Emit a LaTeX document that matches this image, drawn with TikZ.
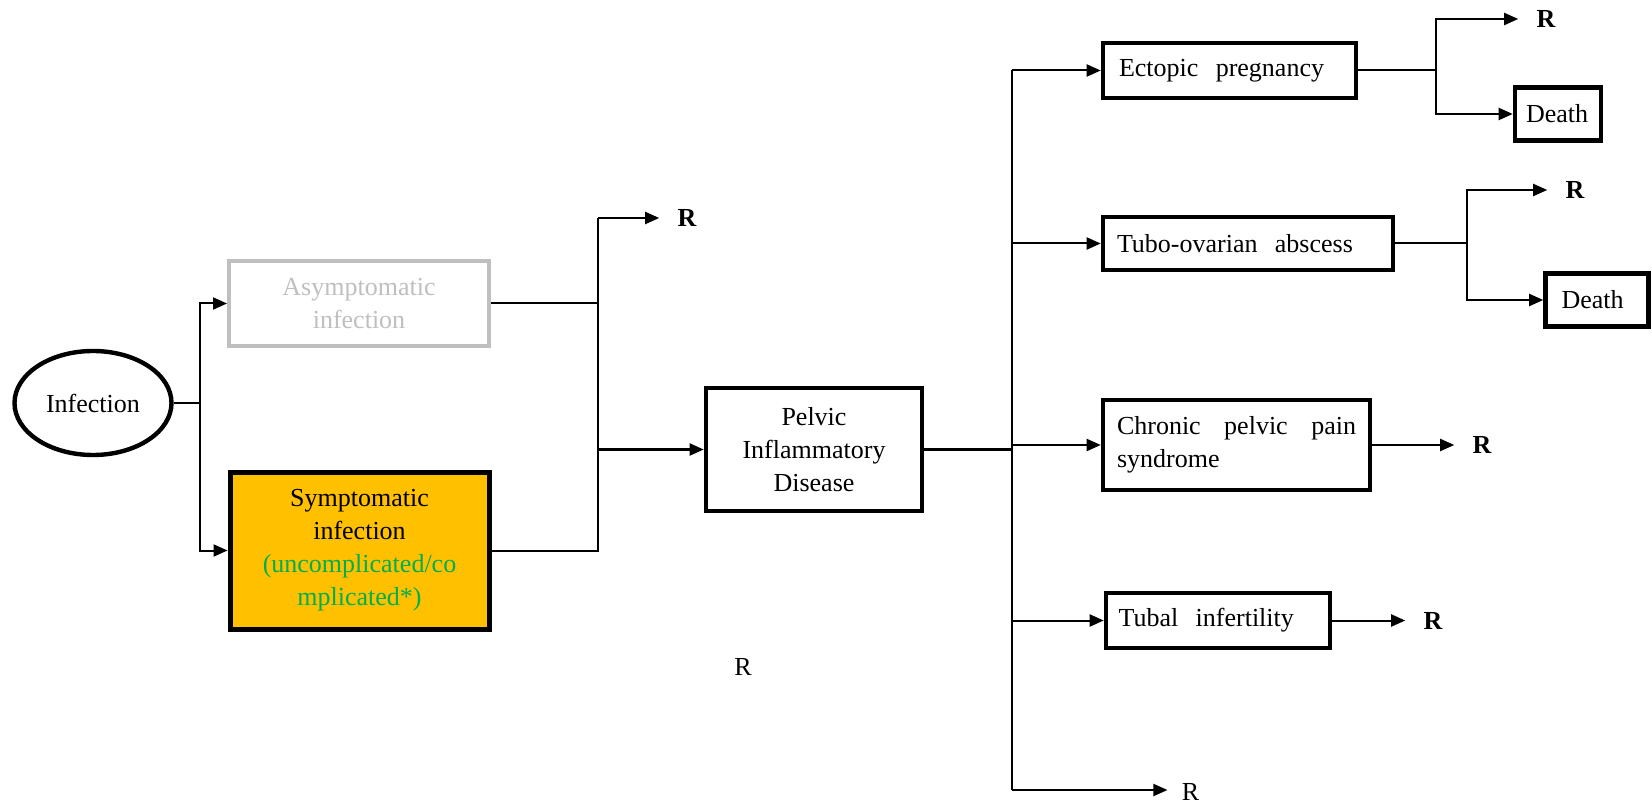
\documentclass[tikz,border=0pt]{standalone}
\usepackage{fontspec}
\setmainfont{Liberation Serif}
\usetikzlibrary{arrows.meta,shapes.geometric}
\definecolor{ambergold}{HTML}{FFC000}
\definecolor{leafgreen}{HTML}{00B050}
\definecolor{paleline}{HTML}{BFBFBF}
\begin{document}
\begin{tikzpicture}[x=0.5pt,y=-0.5pt,
  every node/.style={font=\fontsize{13}{16.5}\selectfont},
  box/.style={draw,line width=2.3pt,rectangle,inner sep=0pt,align=center},
  lbox/.style={draw,line width=2.3pt,rectangle,inner ysep=0pt,align=left},
  conn/.style={line width=1pt},
  arr/.style={conn,-{Triangle[length=7pt,width=6pt]}},
  rlab/.style={inner sep=0pt,font=\fontsize{13}{16.5}\selectfont\bfseries},
  rplain/.style={inner sep=0pt},
]
\useasboundingbox (0,0) rectangle (1652,806);

% first stage
\node[draw,ellipse,line width=2.2pt,minimum width=78.5pt,minimum height=52pt,inner sep=0pt]
  (inf) at (93,403) {Infection};
\node[box,draw=paleline,text=paleline,line width=2pt,minimum width=130pt,minimum height=42.5pt]
  (asym) at (359,303.5) {Asymptomatic\\infection};
\node[box,fill=ambergold,line width=2.5pt,minimum width=129.5pt,minimum height=78.5pt]
  (sym) at (359.5,550.5) {Symptomatic\\infection\\\textcolor{leafgreen}{(uncomplicated/co}\\\textcolor{leafgreen}{mplicated*)}};
\node[box,minimum width=108pt,minimum height=61.5pt]
  (pid) at (814,449.5) {Pelvic\\Inflammatory\\Disease};

% sequelae
\node[lbox,inner xsep=8pt,text width=110.5pt,minimum height=27.5pt]
  (ect) at (1229.5,70.5) {Ectopic\ \ pregnancy};
\node[lbox,inner xsep=7pt,text width=131pt,minimum height=26.5pt]
  (tubo) at (1248,243.5) {Tubo-ovarian\ \ abscess};
\node[lbox,inner xsep=7pt,text width=119.5pt,minimum height=45pt]
  (chr) at (1236.5,445) {Chronic\hfill pelvic\hfill pain\\syndrome};
\node[lbox,inner xsep=6.3pt,text width=99.4pt,minimum height=27.5pt]
  (tubal) at (1218,620.5) {Tubal\ \ infertility};
\node[lbox,inner xsep=5.5pt,text width=32pt,minimum height=26.5pt]
  (d1) at (1558,114) {Death};
\node[lbox,inner xsep=8pt,text width=35.5pt,minimum height=26.5pt]
  (d2) at (1597,300) {Death};

% recovery labels
\node[rlab] (r1) at (687,218) {R};
\node[rlab] (r2) at (1546,19) {R};
\node[rlab] (r3) at (1575,190) {R};
\node[rlab] (r4) at (1482,445) {R};
\node[rlab] (r5) at (1433,620.5) {R};
\node[rplain] (r6) at (1190.5,792) {R};
\node[rplain] (r7) at (743,667) {R};

% junction points
\coordinate (s1) at (200,403);
\coordinate (jtop) at (598,218);
\coordinate (j1) at (598,449.5);
\coordinate (k) at (1011.5,449.5);
\coordinate (ktop) at (1011.5,70.5);
\coordinate (kbot) at (1011.5,790);
\coordinate (e) at (1436,70.5);
\coordinate (t) at (1466.6,243.5);

% infection split
\draw[conn] (inf.east) -- (s1);
\draw[arr] (s1) |- (asym.west);
\draw[arr] (s1) |- (sym.west);

% merge into PID
\draw[conn] (asym.east) -- (asym.east -| jtop);
\draw[conn] (sym.east) -| (jtop);
\draw[arr,shorten >=9pt] (jtop) -- (r1.west);
\draw[arr] (j1) -- (pid.west);

% PID outcomes
\draw[conn] (pid.east) -- (k);
\draw[conn] (ktop) -- (kbot);
\draw[arr] (ktop) -- (ect.west);
\draw[arr] (ktop |- tubo.west) -- (tubo.west);
\draw[arr] (ktop |- chr.west) -- (chr.west);
\draw[arr] (ktop |- tubal.west) -- (tubal.west);
\draw[arr,shorten >=7pt] (kbot) -- (kbot -| r6.west);

% ectopic pregnancy outcomes
\draw[conn] (ect.east) -- (e);
\draw[arr,shorten >=9pt] (e) |- (r2.west);
\draw[arr] (e) |- (d1.west);

% tubo-ovarian abscess outcomes
\draw[conn] (tubo.east) -- (t);
\draw[arr,shorten >=9pt] (t) |- (r3.west);
\draw[arr] (t) |- (d2.west);

% chronic pain and infertility
\draw[arr,shorten >=9pt] (chr.east) -- (r4.west);
\draw[arr,shorten >=9pt] (tubal.east) -- (r5.west);
\end{tikzpicture}
\end{document}
